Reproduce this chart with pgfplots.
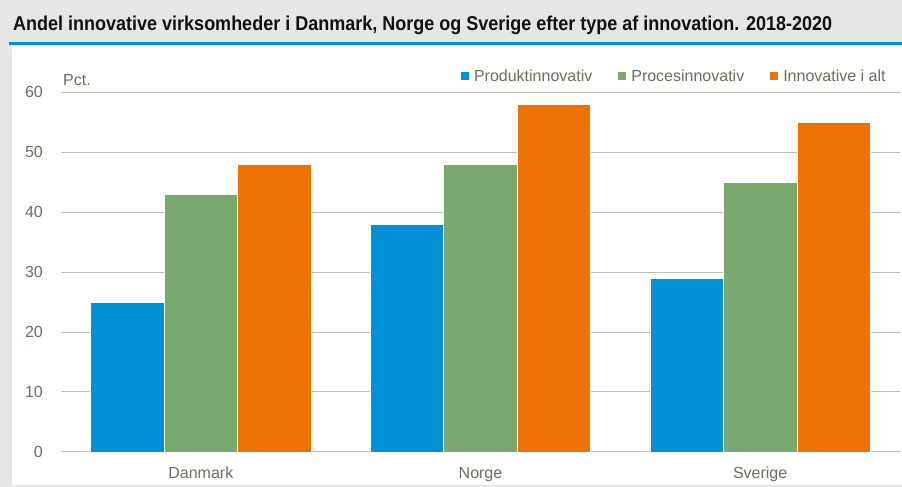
\documentclass[border=0pt]{standalone}
\usepackage{fontspec}
\setmainfont{Liberation Sans}
\newfontfamily\titlefont[FakeStretch=0.9]{Liberation Sans}
\usepackage{pgfplots}
\pgfplotsset{compat=1.18}
\definecolor{bggray}{HTML}{E6E6E6}
\definecolor{titleblue}{HTML}{0090D5}
\definecolor{cblue}{HTML}{0090D6}
\definecolor{cgreen}{HTML}{78AA6F}
\definecolor{corange}{HTML}{EE7203}
\definecolor{gridgray}{HTML}{BEBEB2}
\definecolor{labgray}{HTML}{6E6E60}
\definecolor{titleblack}{HTML}{111111}
\begin{document}
\begin{tikzpicture}[x=1pt,y=1pt]
\fill[bggray] (0,0) rectangle (902,487);
\fill[white] (12,2) rectangle (902,441);
\fill[titleblue] (9,442) rectangle (902,444.5);
\node[anchor=base west, inner sep=0pt, text=titleblack, font=\titlefont\bfseries\fontsize{20}{24}\selectfont] at (13,456.3) {Andel innovative virksomheder i Danmark, Norge og Sverige efter type af innovation. 2018-2020};
\begin{axis}[
  at={(61pt,35pt)}, anchor=south west,
  scale only axis, width=839pt, height=360pt,
  xmin=-0.5, xmax=2.5, ymin=0, ymax=60,
  ybar=0pt, bar width=73.5pt,
  axis line style={draw=none},
  tick style={draw=none},
  major tick length=0pt,
  ytick={0,10,...,60},
  ymajorgrids, grid style={gridgray, line width=1pt},
  xtick={0,1,2}, xticklabels={Danmark,Norge,Sverige},
  /pgf/number format/assume math mode=true,
  ticklabel style={font=\fontsize{16}{19}\selectfont, text=labgray, inner sep=0pt},
  yticklabel style={anchor=east, xshift=-18pt},
  xticklabel style={anchor=base, yshift=-27pt},
  legend columns=-1,
  legend style={at={(0.4768,1.0439)}, anchor=west, draw=none, fill=none, inner sep=0pt, outer sep=0pt,
    font=\fontsize{16}{19}\selectfont, text=labgray,
    nodes={inner sep=0pt},
    /tikz/every odd column/.append style={column sep=5pt},
    /tikz/every even column/.append style={column sep=26pt}},
  legend image code/.code={\fill[#1, draw=none] (0pt,-4pt) rectangle (8pt,4pt);},
  clip=false,
]
\addplot[fill=cblue, draw=white, line width=0.75pt] coordinates {(0,25) (1,38) (2,29)};
\addplot[fill=cgreen, draw=white, line width=0.75pt] coordinates {(0,43) (1,48) (2,45)};
\addplot[fill=corange, draw=white, line width=0.75pt] coordinates {(0,48) (1,58) (2,55)};
\legend{Produktinnovativ,Procesinnovativ,Innovative i alt}
\node[anchor=base west, inner sep=0pt, font=\fontsize{16}{19}\selectfont, text=labgray] at ([xshift=2pt,yshift=7pt]rel axis cs:0,1) {Pct.};
\end{axis}
\end{tikzpicture}
\end{document}
